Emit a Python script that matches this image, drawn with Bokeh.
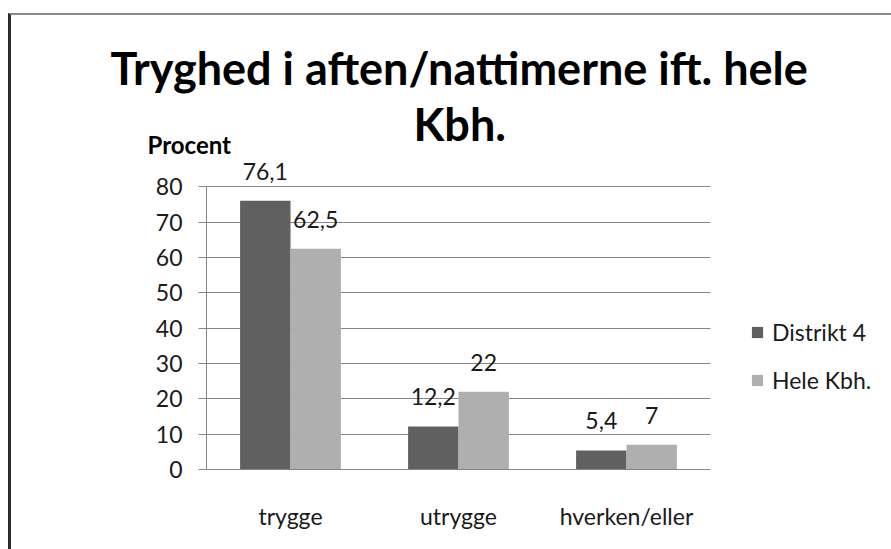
from bokeh.plotting import figure
from bokeh.layouts import column
from bokeh.models import (ColumnDataSource, Range1d, LabelSet, Title,
                          Legend, LegendItem, FixedTicker)
from bokeh.core.properties import value
from bokeh.embed import file_html
from bokeh.resources import INLINE

categories = ["trygge", "utrygge", "hverken/eller"]
distrikt4 = [76.1, 12.2, 5.4]
hele_kbh = [62.5, 22, 7]
y_ticks = [0, 10, 20, 30, 40, 50, 60, 70, 80]
title_line1 = "Tryghed i aften/nattimerne ift. hele"
title_line2 = "Kbh."
y_title = "Procent"
series_names = ["Distrikt 4", "Hele Kbh."]

def fmt(v):
    return f"{v:g}".replace(".", ",")

centers = [i + 0.5 for i in range(len(categories))]
bw = 0.3
src = ColumnDataSource(dict(
    x1=[c - bw / 2 for c in centers],
    x2=[c + bw / 2 for c in centers],
    d4=distrikt4,
    hk=hele_kbh,
    d4_lbl=[fmt(v) for v in distrikt4],
    hk_lbl=[fmt(v) for v in hele_kbh],
))

FONT = "Lato"
GRID = "#868686"
TXT = "#1a1a1a"
n = len(categories)

p = figure(width=880, height=534, output_backend="svg", toolbar_location=None,
           x_range=Range1d(0, n * 680 / 504), y_range=Range1d(0, 87.76),
           min_border_left=195, min_border_right=5, min_border_top=143,
           min_border_bottom=80)
p.outline_line_color = None
p.title = None

r1 = p.vbar(x="x1", top="d4", width=bw, source=src, fill_color="#606060", line_color=None)
r2 = p.vbar(x="x2", top="hk", width=bw, source=src, fill_color="#afafaf", line_color=None)

for col, xcol, ycol in (("d4_lbl", "x1", "d4"), ("hk_lbl", "x2", "hk")):
    p.add_layout(LabelSet(x=xcol, y=ycol, text=col, source=src, text_align="center",
                          text_baseline="alphabetic", y_offset=21,
                          text_font=value(FONT), text_font_size="23px", text_color=TXT))

# axes
p.yaxis.ticker = FixedTicker(ticks=y_ticks)
p.yaxis.bounds = (0, 80)
p.yaxis.axis_line_color = GRID
p.yaxis.major_tick_line_color = GRID
p.yaxis.major_tick_out = 8
p.yaxis.major_tick_in = 0
p.yaxis.minor_tick_line_color = None
p.yaxis.major_label_standoff = 16
p.yaxis.major_label_text_font = FONT
p.yaxis.major_label_text_font_size = "23px"
p.yaxis.major_label_text_color = TXT

p.xaxis.ticker = FixedTicker(ticks=centers)
p.xaxis.major_label_overrides = {c: lab for c, lab in zip(centers, categories)}
p.xaxis.bounds = (0, n)
p.xaxis.axis_line_color = GRID
p.xaxis.major_tick_line_color = None
p.xaxis.minor_tick_line_color = None
p.xaxis.major_label_standoff = 26
p.xaxis.major_label_text_font = FONT
p.xaxis.major_label_text_font_size = "23px"
p.xaxis.major_label_text_color = TXT

p.xgrid.grid_line_color = None
p.ygrid.grid_line_color = GRID
p.ygrid.ticker = FixedTicker(ticks=y_ticks)
p.ygrid.cross_bounds = (0, n)

# titles stacked above the frame (first added = closest to the frame)
p.add_layout(Title(text=y_title, align="left", offset=-59, standoff=1,
                   text_font=FONT, text_font_style="bold", text_font_size="24px",
                   text_color="black"), "above")
p.add_layout(Title(text=title_line2, align="left", offset=207, standoff=-46,
                   text_font=FONT, text_font_style="bold", text_font_size="45px",
                   text_color="black"), "above")
p.add_layout(Title(text=title_line1, align="left", offset=-96, standoff=46,
                   text_font=FONT, text_font_style="bold", text_font_size="45px",
                   text_color="black"), "above")

legend = Legend(items=[LegendItem(label=series_names[0], renderers=[r1]),
                       LegendItem(label=series_names[1], renderers=[r2])],
                location=(544, 75), orientation="vertical")
legend.border_line_color = None
legend.background_fill_alpha = 0
legend.padding = 0
legend.margin = 0
legend.glyph_width = 14
legend.glyph_height = 14
legend.label_height = 20
legend.spacing = 20
legend.label_standoff = 8
legend.label_text_font = FONT
legend.label_text_font_size = "23px"
legend.label_text_color = TXT
p.add_layout(legend, "center")

page = column(p, styles={"border-left": "3px solid #2b2b2b",
                         "border-top": "2px solid #8a8a8a",
                         "margin-left": "8px",
                         "margin-top": "13px"})

open("out.html", "w").write(file_html(page, INLINE))
